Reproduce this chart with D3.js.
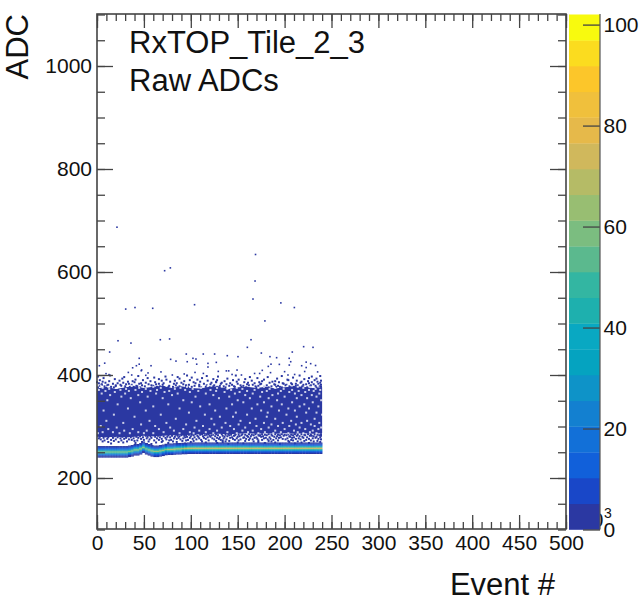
<!DOCTYPE html>
<html><head><meta charset="utf-8">
<script src="https://cdn.jsdelivr.net/npm/d3@7"></script>
<style>html,body{margin:0;padding:0;background:#fff}svg{display:block}text{font-family:"Liberation Sans",Arial,sans-serif;fill:#111}</style>
</head><body><svg id="c" width="640" height="612"></svg>
<script>
const palette=["#2b38a2","#1947c8","#1160da","#1270d8","#1380d0","#0e93c8","#05a3c0","#09a8c2","#1eb0ae","#33b6a2","#5bb98e","#7bbd80","#98be72","#b5bb66","#d0b85c","#e6b94a","#f0c03c","#fcc62a","#fbdc1f","#f8fa0e"];
const xMajor=[0,50,100,150,200,250,300,350,400,450,500];
const yMajor=[200,400,600,800,1000];
const zTicks=[0,20,40,60,80,100];
const cloudEvents=[0,10,20,30,40,50,60,70,80,90,100,110,120,130,140,150,160,170,180,190,200,210,220,230,240];
const cloudTop=[374,377,373,376,378,375,377,379,375,378,375,374,377,378,373,376,377,375,377,374,376,378,377,375,376];
const cloudBottom=[280,279,280,279,280,282,281,282,283,283,284,285,285,286,285,286,287,286,287,286,287,286,287,286,287];
const bandEvents=[0,3,6,9,12,15,18,21,24,27,30,33,36,39,42,45,48,51,54,57,60,63,66,69,72,75,78,81,84,87,90,93,96,99,102,105,108,111,114,117,120,123,126,129,132,135,138,141,144,147,150,153,156,159,162,165,168,171,174,177,180,183,186,189,192,195,198,201,204,207,210,213,216,219,222,225,228,231,234,237];
const bandCentre=[251,251,251,251,251,251,251,251,251,251,251,252,253,255,255,257,260,257,255,253,252,252,253,254,255.5,256,256,256.5,257,257,257.5,257.5,258,258,258,258,258,258,258,258,258,258,258,258,258,258,258,258,258,258,258,258,258,258,258,258,258,258,258,258,258,258,258,258,258,258,258,258,258,258,258,258,258,258,258,258,258,258,258,258];
const bandPeak=[60,60,60,60,60,60,60,60,60,60,60,60,60,62,62,64,62,60,62,64,64,66,66,66,66,68,68,68,68,70,70,72,72,72,74,72,72,74,72,74,72,72,74,72,74,72,72,74,72,72,74,72,74,72,72,74,72,72,74,72,72,74,72,74,72,72,74,72,72,74,72,72,74,72,72,74,72,72,74,72];
const bandOffsets=[-10,-8,-6,-4,-2,0,2,4,6,8,10];
const bandShape=[.04,.08,.18,.38,.68,1,.72,.42,.2,.09,.04];
const outliers=[[21.3,687],[30.6,528],[40.5,531],[59.4,529.5],[72.1,602.5],[78.2,608],[104,536.5],[169,634],[168.5,582.5],[166.3,547.5],[196,540],[210.4,531],[179,505],[22.4,466.5],[36.2,462],[67.5,468.5],[77.4,470],[164.2,468.5],[160.3,453.7],[220.3,455],[230.3,453.7],[13.5,444.6],[2.5,418],[8.2,423],[175.2,442.6],[208.2,444.6],[95.2,440.7],[113.3,440.7],[125.4,440.7],[138.9,437.5],[150.3,435.6],[184.4,435.6],[191.5,433.6],[204.9,432.4],[45,432.4],[78.5,430.4],[84.2,427],[102.3,432.4],[105.5,431],[96.2,425.8],[118.3,422.6],[127.2,424.5],[206.5,425.8],[223,425],[227.8,422],[106.3,421],[45,421],[42,418],[38,414],[57.6,418],[118.3,415.5],[185.5,421],[182.6,416.7],[194.4,420.6],[205,419.3],[218.2,418],[223,414.5],[233,418.5],[176.2,409],[149.3,409.6],[129.3,407],[33.4,405],[47.2,408.3],[68.2,406],[54.4,404],[221.4,406.8],[235.2,406],[9.6,402.6],[12.8,400.7],[37,400],[52,399.4],[80.3,400],[93,402],[104.5,405],[113.4,403],[137.9,408],[140.4,408],[144,401],[154,400],[168,403],[173.4,403],[185,404.6],[200,406.5],[203.6,400],[210.7,401],[47.6,409.8]];
const fringeAdc=[399,398,397,396,395,394,393,392,391,390,389,388,387,386,385,384,383,382,381,380,379,378,377,376];
const fringeEvents=[
[14,96,148,216],[44,117,197,238],[1,73,129,229],[29,86,163,182],[61,101,209],
[7,54,112,171,226],[27,88,139,192,234],[19,66,124,158,221],[41,74,107,151,178,203],
[3,49,99,145,204,232,128],[24,69,118,165,213,239,83],[13,57,93,136,176,225,38,190],
[33,78,110,127,187,6,149,218,235],[0,40,127,157,194,62,103,173,229],[9,52,90,133,184,217,28,122,161,238],
[22,71,105,142,168,207,2,47,85,198,226],[17,45,82,114,150,199,236,34,66,132,175,212],
[31,63,121,160,174,223,5,55,92,138,189,208,231],[37,98,190,5,12,25,70,109,144,166,202,220,240],
[11,48,84,125,162,201,228,20,58,95,117,153,181,214],[26,60,95,131,172,212,3,42,77,104,141,156,193,233,237],
[20,67,109,146,186,237,43,8,30,51,88,124,135,169,205,219,227],[35,76,116,154,195,219,15,39,64,81,101,128,147,178,191,210,239],
[1,18,29,46,59,72,86,97,111,120,137,159,170,183,197,206,224,234]];
const lowAdc=[285,284,283,282,281,280,279,278,277,276,275,274,273,272,271,270,269,268,267,266];
const lowEvents=[
[91,105,119,133,148,162,176,190,204,218,232,112,127,140,155,169,183,197,211,225,239],
[84,98,110,124,137,151,165,179,193,207,221,235,101,117,143,158,172,186,200,214,228],
[1,60,68,76,90,103,115,129,141,154,167,181,195,209,222,237,95,122,147,174,202],
[5,14,24,38,52,65,80,93,107,120,134,146,160,173,187,199,213,227,240,86,229],
[9,19,33,46,57,71,88,100,113,126,139,152,164,177,192,205,216,231],
[3,27,42,54,62,75,83,96,108,121,136,150,161,175,189,206,219,234],
[12,22,36,49,67,78,94,104,118,131,144,157,170,184,196,210,224,238],
[7,17,31,44,58,73,87,99,114,128,142,156,168,180,194,208,220,233],
[2,25,39,53,64,82,92,109,123,135,149,163,178,191,203,215,230],
[11,29,47,69,85,102,116,130,145,159,171,185,198,212,226,236],
[4,20,34,56,74,89,106,125,138,153,166,182,201,217,239],
[15,37,50,66,79,97,111,132,147,162,176,188,207,223],
[8,26,43,61,77,95,119,134,151,172,193,209,228],
[18,40,70,91,103,127,141,158,183,204,221,235],
[6,32,55,81,112,137,167,186,214,231],
[12,48,69,100,134,172,205,238,23,85],
[28,63,116,150,190,218],[41,76,128,179,226],[15,94,156,211],[58,140,195]];
const holeAdc=[379,377,375,373,371,369,367,364,361,358,355,351,347,343,339,335,331,327,323,319,315,311,307,304,301,298,295,292,289,287];
const holeEvents=[
[4,37,74,118,164,203,236],[12,28,60,96,133,178,214,227],[6,21,45,68,89,111,128,149,172,190,220],
[13,31,52,83,102,139,155,184,199,233],[2,25,41,64,94,121,143,168,208,226,238],[9,34,57,77,108,127,160,181,196,215,231],
[19,48,72,99,136,152,176,205,222],[5,30,63,86,116,147,166,193,211,237],[14,44,80,124,158,187,218,229],
[26,54,105,141,174,200,234],[36,70,130,163,183,213,224],[11,92,150,192,239],[46,101,156,178,208,230],
[22,76,120,144,171,197,221],[60,110,186,216,236],[33,88,138,165,204,226],[7,52,126,175,194,211],
[98,148,182,234,223],[18,68,115,160,202,240],[40,131,145,181,213],[84,122,169,190,232],[10,56,106,153,207,224],
[28,74,137,163,178,198,218,237],[47,95,125,151,186,212,228],[4,62,113,142,170,193,205,232],[21,78,104,133,158,183,216,239],
[12,38,66,92,120,146,175,200,222,236],[29,53,82,109,128,155,166,190,210,230],[6,17,44,71,99,116,139,161,179,196,214,227],
[1,24,35,50,60,88,103,124,149,172,188,204,220,234]];
const x=d3.scaleLinear().domain([0,500]).range([97,566]);
const y=d3.scaleLinear().domain([100,1100]).range([529.5,14.5]);
const z=d3.scaleLinear().domain([0,102]).range([529.5,14.5]);
const zBand=d3.scaleQuantize().domain([0,102]).range(palette);
const svg=d3.select("#c");
const marks=svg.append("g").style("filter","blur(0.4px)");
const rowsToPoints=(adc,evs)=>adc.flatMap((a,i)=>evs[i].map(e=>[e,a]));
marks.append("path").attr("fill",palette[0]).attr("d",d3.area().x((d,i)=>x(cloudEvents[i])).y0((d,i)=>y(cloudBottom[i])).y1(d=>y(d))(cloudTop));
const dots=[...rowsToPoints(fringeAdc,fringeEvents),...rowsToPoints(lowAdc,lowEvents)];
marks.append("g").selectAll("rect").data(dots).join("rect").attr("x",d=>Math.min(x(d[0])-1,320)).attr("y",d=>y(d[1])-1).attr("width",2).attr("height",2).attr("fill",palette[0]);
marks.append("g").selectAll("rect").data(outliers).join("rect").attr("x",d=>x(d[0])-.8).attr("y",d=>y(d[1])-.8).attr("width",1.6).attr("height",1.6).attr("fill",palette[0]);
marks.append("g").selectAll("rect").data(rowsToPoints(holeAdc,holeEvents)).join("rect").attr("x",d=>x(d[0])-1).attr("y",d=>y(d[1])-1).attr("width",2).attr("height",2).attr("fill","#fff").attr("opacity",.75);
const cells=bandEvents.flatMap((e,i)=>bandOffsets.map((o,j)=>({e,c:bandCentre[i]+o,n:bandPeak[i]*bandShape[j]})));
marks.append("g").selectAll("rect").data(cells).join("rect").attr("x",d=>x(d.e)).attr("width",x(3)-x(0)+.3).attr("y",d=>y(d.c+1)).attr("height",y(0)-y(2)+.2).attr("fill",d=>zBand(d.n));
function axis(gen,tx){const g=svg.append("g").attr("transform",tx||null).call(gen);g.selectAll(".domain").remove();g.selectAll("line").attr("stroke","#444").attr("stroke-width",1.3);g.selectAll("text").attr("font-size",21).style("font-family",'"Liberation Sans"').attr("fill","#111");return g;}
const xMinor=d3.range(0,501,10),yMinor=d3.range(100,1101,50);
axis(d3.axisBottom(x).tickValues(xMinor).tickSize(-7).tickFormat(""),"translate(0,529)");
axis(d3.axisTop(x).tickValues(xMinor).tickSize(-7).tickFormat(""),"translate(0,14)");
axis(d3.axisLeft(y).tickValues(yMinor).tickSize(-8).tickFormat(""),"translate(97,0)");
axis(d3.axisRight(y).tickValues(yMinor).tickSize(-8).tickFormat(""),"translate(566,0)");
axis(d3.axisBottom(x).tickValues(xMajor).tickSize(-14).tickPadding(6).tickFormat(d3.format("d")),"translate(0,529)");
axis(d3.axisTop(x).tickValues(xMajor).tickSize(-14).tickFormat(""),"translate(0,14)");
axis(d3.axisLeft(y).tickValues(yMajor).tickSize(-16).tickPadding(5).tickFormat(d3.format("d")),"translate(97,0)");
axis(d3.axisRight(y).tickValues(yMajor).tickSize(-16).tickFormat(""),"translate(566,0)");
svg.append("rect").attr("x",97).attr("y",14).attr("width",469).attr("height",515).attr("fill","none").attr("stroke","#444").attr("stroke-width",1.6);
svg.append("text").attr("x",603.5).attr("y",527).attr("text-anchor","end").attr("font-size",20).text("×10");
svg.append("g").selectAll("rect").data(palette).join("rect").attr("x",569).attr("width",31).attr("y",(d,i)=>z((i+1)*102/20)).attr("height",z(0)-z(102/20)+.3).attr("fill",d=>d);
axis(d3.axisRight(z).tickValues(zTicks).tickSize(-17).tickPadding(3.5).tickFormat(d3.format("d")),"translate(600,0)");
svg.append("line").attr("x1",600).attr("x2",600).attr("y1",14).attr("y2",529.5).attr("stroke","#555").attr("stroke-width",1.2);
svg.append("text").attr("x",604).attr("y",518).attr("font-size",14).text("3");
svg.append("text").attr("x",129).attr("y",53).attr("font-size",31).text("RxTOP_Tile_2_3");
svg.append("text").attr("x",129).attr("y",91).attr("font-size",31).text("Raw ADCs");
svg.append("text").attr("x",555).attr("y",595).attr("text-anchor","end").attr("font-size",31).text("Event #");
svg.append("text").attr("transform","translate(28,14) rotate(-90)").attr("text-anchor","end").attr("font-size",31).text("ADC");
</script></body></html>
